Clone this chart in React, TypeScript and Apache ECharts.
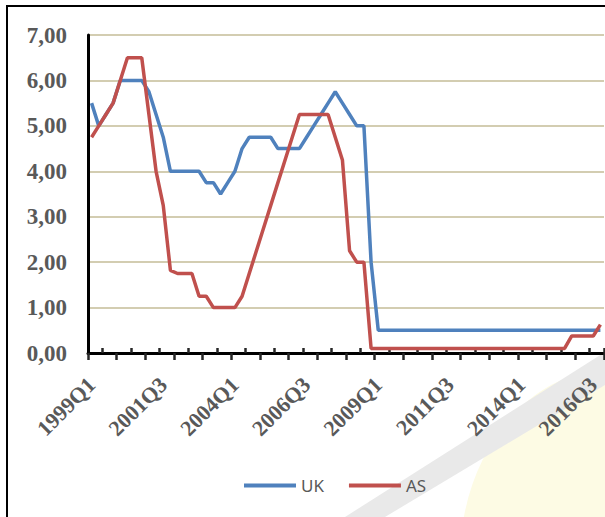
import React, { useEffect, useRef } from "react";
import * as echarts from "echarts";

const categories = [
  "1999Q1","1999Q2","1999Q3","1999Q4",
  "2000Q1","2000Q2","2000Q3","2000Q4",
  "2001Q1","2001Q2","2001Q3","2001Q4",
  "2002Q1","2002Q2","2002Q3","2002Q4",
  "2003Q1","2003Q2","2003Q3","2003Q4",
  "2004Q1","2004Q2","2004Q3","2004Q4",
  "2005Q1","2005Q2","2005Q3","2005Q4",
  "2006Q1","2006Q2","2006Q3","2006Q4",
  "2007Q1","2007Q2","2007Q3","2007Q4",
  "2008Q1","2008Q2","2008Q3","2008Q4",
  "2009Q1","2009Q2","2009Q3","2009Q4",
  "2010Q1","2010Q2","2010Q3","2010Q4",
  "2011Q1","2011Q2","2011Q3","2011Q4",
  "2012Q1","2012Q2","2012Q3","2012Q4",
  "2013Q1","2013Q2","2013Q3","2013Q4",
  "2014Q1","2014Q2","2014Q3","2014Q4",
  "2015Q1","2015Q2","2015Q3","2015Q4",
  "2016Q1","2016Q2","2016Q3","2016Q4",
];

const ukRate = [
  5.5, 5.0, 5.25, 5.5,
  6.0, 6.0, 6.0, 6.0,
  5.75, 5.25, 4.75, 4.0,
  4.0, 4.0, 4.0, 4.0,
  3.75, 3.75, 3.5, 3.75,
  4.0, 4.5, 4.75, 4.75,
  4.75, 4.75, 4.5, 4.5,
  4.5, 4.5, 4.75, 5.0,
  5.25, 5.5, 5.75, 5.5,
  5.25, 5.0, 5.0, 2.0,
  0.5, 0.5, 0.5, 0.5,
  0.5, 0.5, 0.5, 0.5,
  0.5, 0.5, 0.5, 0.5,
  0.5, 0.5, 0.5, 0.5,
  0.5, 0.5, 0.5, 0.5,
  0.5, 0.5, 0.5, 0.5,
  0.5, 0.5, 0.5, 0.5,
  0.5, 0.5, 0.5, 0.5,
];

const asRate = [
  4.75, 5.0, 5.25, 5.5,
  6.0, 6.5, 6.5, 6.5,
  5.25, 4.0, 3.25, 1.82,
  1.75, 1.75, 1.75, 1.25,
  1.25, 1.0, 1.0, 1.0,
  1.0, 1.25, 1.75, 2.25,
  2.75, 3.25, 3.75, 4.25,
  4.75, 5.25, 5.25, 5.25,
  5.25, 5.25, 4.75, 4.25,
  2.25, 2.0, 2.0, 0.1,
  0.1, 0.1, 0.1, 0.1,
  0.1, 0.1, 0.1, 0.1,
  0.1, 0.1, 0.1, 0.1,
  0.1, 0.1, 0.1, 0.1,
  0.1, 0.1, 0.1, 0.1,
  0.1, 0.1, 0.1, 0.1,
  0.1, 0.1, 0.1, 0.375,
  0.375, 0.375, 0.375, 0.625,
];

const seriesNames = ["UK", "AS"];
const seriesColors = ["#4f81bd", "#c0504d"];

const serif = "'Liberation Serif', 'Times New Roman', serif";
const sans = "'Noto Sans', 'Open Sans', sans-serif";

export default function App() {
  const ref = useRef<HTMLDivElement>(null);

  useEffect(() => {
    if (!ref.current) return;
    const chart = echarts.init(ref.current, null, { renderer: "svg" });
    chart.setOption({
      animation: false,
      backgroundColor: "#ffffff",
      graphic: [
        {
          type: "ellipse",
          shape: { cx: 610, cy: 560, rx: 150, ry: 190 },
          style: { fill: "#fdfbe4" },
          z: -10,
          silent: true,
        },
        {
          type: "polygon",
          shape: { points: [[345, 517], [385, 517], [605, 385], [605, 352]] },
          style: { fill: "#e9e9e9" },
          z: -9,
          silent: true,
        },
        {
          type: "rect",
          shape: { x: 7, y: 6, width: 700, height: 600 },
          style: { fill: "none", stroke: "#000000", lineWidth: 2 },
          z: 100,
        },
      ],
      grid: { left: 88, top: 35, width: 516, height: 318, containLabel: false },
      legend: {
        data: seriesNames,
        left: 239,
        top: 472,
        icon: "rect",
        itemWidth: 52,
        itemHeight: 4,
        itemGap: 25,
        textStyle: { color: "#595959", fontSize: 17, fontFamily: sans },
      },
      xAxis: [
        {
          type: "category",
          data: categories,
          boundaryGap: true,
          position: "bottom",
          axisLine: { show: true, onZero: false, lineStyle: { color: "#000000", width: 3 } },
          axisTick: {
            show: true,
            inside: false,
            length: 7,
            interval: (i: number) => i % 4 === 0,
            lineStyle: { color: "#262626", width: 2.5 },
          },
          axisLabel: {
            interval: 9,
            rotate: 45,
            margin: 28,
            color: "#595959",
            fontFamily: serif,
            fontWeight: "bold",
            fontSize: 22,
          },
          splitLine: { show: false },
        },
        {
          type: "category",
          data: categories,
          boundaryGap: true,
          position: "bottom",
          axisLine: { show: false, onZero: false },
          axisTick: {
            show: true,
            inside: true,
            length: 5,
            interval: (i: number) => i % 4 === 2,
            lineStyle: { color: "#262626", width: 2.5 },
          },
          axisLabel: { show: false },
          splitLine: { show: false },
        },
      ],
      yAxis: {
        type: "value",
        min: 0,
        max: 7,
        interval: 1,
        axisLine: { show: true, lineStyle: { color: "#000000", width: 3 } },
        axisTick: { show: false },
        axisLabel: {
          margin: 21,
          color: "#595959",
          fontFamily: serif,
          fontWeight: "bold",
          fontSize: 23,
          formatter: (v: number) => v.toFixed(2).replace(".", ","),
        },
        splitLine: { lineStyle: { color: "#c4bd97", width: 1.5 } },
      },
      series: [
        {
          name: seriesNames[0],
          type: "line",
          xAxisIndex: 0,
          data: ukRate,
          symbol: "none",
          lineStyle: { color: seriesColors[0], width: 3.5 },
          itemStyle: { color: seriesColors[0] },
        },
        {
          name: seriesNames[1],
          type: "line",
          xAxisIndex: 0,
          data: asRate,
          symbol: "none",
          lineStyle: { color: seriesColors[1], width: 3.5 },
          itemStyle: { color: seriesColors[1] },
        },
      ],
    });
    return () => chart.dispose();
  }, []);

  return (
    <div
      ref={ref}
      style={{ position: "fixed", left: 0, top: 0, width: 605, height: 517 }}
    />
  );
}
